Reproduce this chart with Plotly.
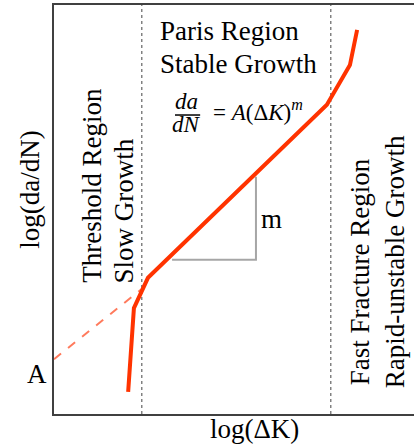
import plotly.graph_objects as go

# Data in chart units: x = log(ΔK), y = log(da/dN) (arbitrary 0-10 scale)
curve_x = [2.06, 2.22, 2.61, 7.58, 8.22, 8.42]
curve_y = [0.54, 2.59, 3.33, 7.56, 8.53, 9.39]

paris_ext_x = [0.0, 2.47]
paris_ext_y = [1.34, 3.08]

region_bounds = [2.44, 7.69]

slope_tri_x = [3.28, 5.61, 5.61]
slope_tri_y = [3.77, 3.77, 5.80]

SERIF = "Liberation Serif, Times New Roman, serif"
RED = "#FF3300"

fig = go.Figure()

# region boundaries (dotted)
for xb in region_bounds:
    fig.add_trace(go.Scatter(x=[xb, xb], y=[0, 10], mode="lines",
                             line=dict(color="#444444", width=1, dash="dot"),
                             hoverinfo="skip", showlegend=False))

# slope triangle
fig.add_trace(go.Scatter(x=slope_tri_x, y=slope_tri_y, mode="lines",
                         line=dict(color="#A6A6A6", width=2),
                         hoverinfo="skip", showlegend=False))

# dashed Paris-law extension to intercept A
fig.add_trace(go.Scatter(x=paris_ext_x, y=paris_ext_y, mode="lines",
                         line=dict(color="#FF7A5C", width=2, dash="dash"),
                         hoverinfo="skip", showlegend=False))

# crack growth curve
fig.add_trace(go.Scatter(x=curve_x, y=curve_y, mode="lines",
                         line=dict(color=RED, width=4),
                         hoverinfo="skip", showlegend=False))

def ann(text, x, y, size=27, angle=0, xanchor="center", yanchor="middle", ref="data"):
    xr, yr = ("x", "y") if ref == "data" else ("paper", "paper")
    fig.add_annotation(text=text, x=x, y=y, xref=xr, yref=yr, showarrow=False,
                       font=dict(family=SERIF, size=size, color="#000000"),
                       textangle=angle, xanchor=xanchor, yanchor=yanchor)

ann("Paris Region", 2.89, 9.36, xanchor="left")
ann("Stable Growth", 2.89, 8.56, xanchor="left")

ann("Threshold Region", 1.06, 3.15, angle=-90, yanchor="bottom")
ann("Slow Growth", 1.94, 3.15, angle=-90, yanchor="bottom")

ann("Fast Fracture Region", 8.50, 0.64, angle=-90, yanchor="bottom")
ann("Rapid-unstable Growth", 9.47, 0.59, angle=-90, yanchor="bottom")

# equation da/dN = A(ΔK)^m
ann("<i>da</i>", 3.68, 7.63, size=23)
ann("<i>dN</i>", 3.69, 7.07, size=23)
fig.add_shape(type="line", x0=3.36, x1=4.06, y0=7.31, y1=7.31, xref="x", yref="y",
              line=dict(color="#000000", width=1.5))
ann("= <i>A</i>(Δ<i>K</i>)<sup><i>m</i></sup>", 4.36, 7.41, size=23, xanchor="left")

ann("m", 6.03, 4.77)

# labels outside the plotting area (paper coordinates)
ann("A", -0.047, 0.098, size=27, ref="paper")
ann("log(da/dN)", -0.067, 0.548, angle=-90, ref="paper")
ann("log(ΔK)", 0.558, -0.037, ref="paper")

fig.update_xaxes(range=[0, 10], showline=True, linecolor="#404040", linewidth=2,
                 mirror=True, showgrid=False, zeroline=False, showticklabels=False,
                 ticks="")
fig.update_yaxes(range=[0, 10], showline=True, linecolor="#404040", linewidth=2,
                 mirror=False, showgrid=False, zeroline=False, showticklabels=False,
                 ticks="")

fig.update_layout(width=414, height=444,
                  margin=dict(l=54, r=0, t=5, b=30),
                  plot_bgcolor="white", paper_bgcolor="white",
                  showlegend=False)

fig.write_html("out.html", config={"displayModeBar": False},
               post_script="document.body.style.margin='0';")
